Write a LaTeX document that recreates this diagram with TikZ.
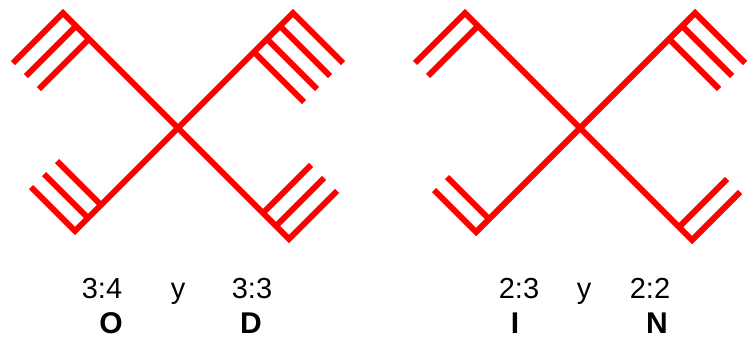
\documentclass[tikz,border=0pt]{standalone}
\usepackage{fontspec}
\setmainfont{Liberation Sans}
\usetikzlibrary{calc}
\definecolor{strandred}{RGB}{255,0,0}
\tikzset{
  strand/.style={draw=strandred, line width=6pt, line join=miter},
  ratio/.style={font=\fontsize{29}{34}\selectfont, anchor=base},
  letter/.style={font=\fontsize{30}{34}\selectfont\bfseries, anchor=base}
}
% one arm of a cross: centre, direction (x,y), arm length, tine length, tines
\newcommand{\forkarm}[6]{%
  \draw[strand] (#1) -- ++({(#2)*#4},{(#3)*#4}) -- ++({(#2)*#5},{-(#3)*#5});
  \foreach \k in {2,...,#6}
    \draw[strand] (#1) ++({(#2)*(#4-(\k-1)*13)},{(#3)*(#4-(\k-1)*13)})
      -- ++({(#2)*#5},{-(#3)*#5});
}

\begin{document}
\begin{tikzpicture}[x=1pt,y=-1pt]
  \useasboundingbox (0,0) rectangle (747,340);
  \coordinate (leftc) at (178,128);
  \coordinate (rightc) at (580,128);

  % left cross
  \forkarm{leftc}{-1}{-1}{115}{50}{3}
  \forkarm{leftc}{1}{-1}{115}{50}{4}
  \forkarm{leftc}{-1}{1}{103}{44}{3}
  \forkarm{leftc}{1}{1}{111}{48}{3}

  % right cross
  \forkarm{rightc}{-1}{-1}{115}{50}{2}
  \forkarm{rightc}{1}{-1}{115}{50}{3}
  \forkarm{rightc}{-1}{1}{104}{42}{2}
  \forkarm{rightc}{1}{1}{112}{48}{2}

  % labels
  \node[ratio] (od34) at (102,298) {3:4};
  \node[ratio] (ody) at (178,298) {y};
  \node[ratio] (od33) at (252,298) {3:3};
  \node[letter] (olet) at (111,333) {O};
  \node[letter] (dlet) at (251,333) {D};

  \node[ratio] (in23) at (519,298) {2:3};
  \node[ratio] (iny) at (584,298) {y};
  \node[ratio] (in22) at (650,298) {2:2};
  \node[letter] (ilet) at (515,333) {I};
  \node[letter] (nlet) at (657,333) {N};
\end{tikzpicture}
\end{document}
